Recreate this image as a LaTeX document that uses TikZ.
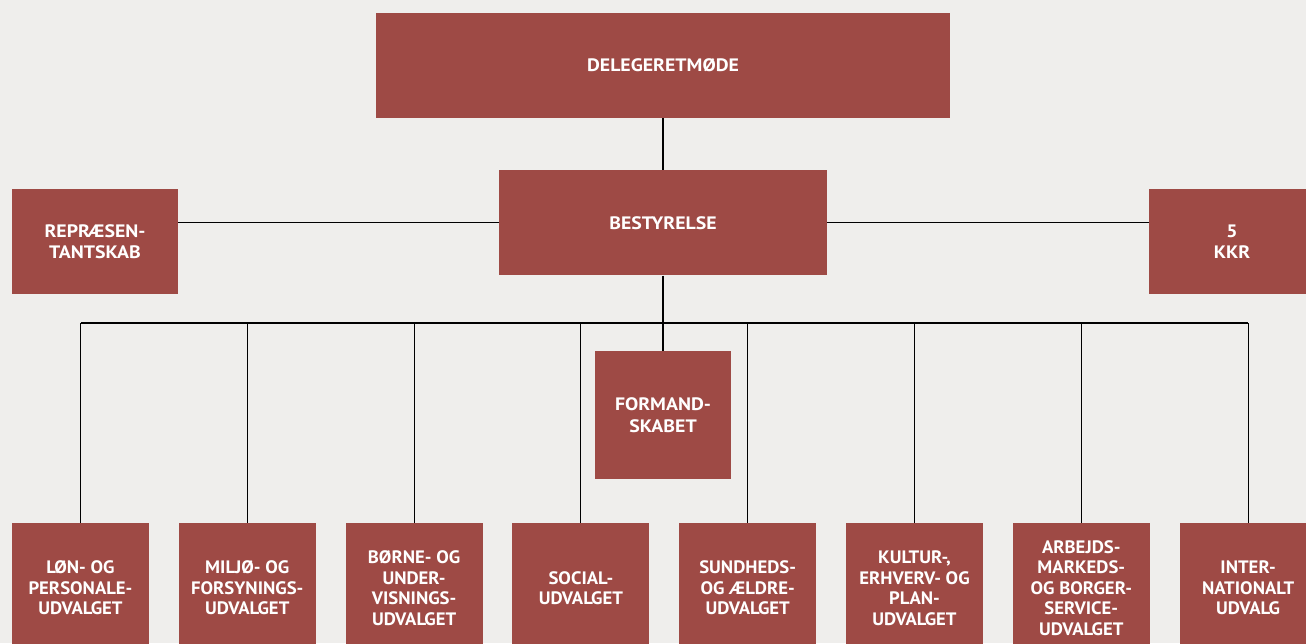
\documentclass[tikz,border=0pt]{standalone}
\usepackage{fontspec}
\setmainfont{PT Sans}[FakeStretch=1.1]
\newfontfamily\narrowfont{PT Sans}[FakeStretch=1.04]
\usepackage{tikz}
\usetikzlibrary{positioning}
\definecolor{boxred}{HTML}{9E4A45}
\definecolor{paper}{HTML}{EFEEEC}

\begin{document}
\begin{tikzpicture}
  [x=1pt,y=-1pt,
 unit/.style={
  rectangle,
  fill=boxred,
  text=white,
  inner sep=0pt,
  align=center,
  font=\fontsize{18}{21.5}\selectfont\bfseries},
 board/.style={unit,minimum width=328pt,minimum height=105pt},
 side/.style={unit,minimum width=166pt,minimum height=105pt},
 committee/.style={
  unit,
  minimum width=137pt,
  minimum height=130pt,
  font=\fontsize{18}{20.5}\narrowfont\bfseries},
 line/.style={draw=black,line width=1.1pt}]
\fill[paper] (0,0) rectangle (1306,643);
\useasboundingbox (0,0) rectangle (1306,643);
% top of the organisation
\node (delegeret) [board,minimum width=574pt] at (663,65.5) {DELEGERETMØDE};
\node (bestyrelse) [board,below=52pt of delegeret] {BESTYRELSE};
\node (repr) [side] at (95,241.5) {REPRÆSEN-\\TANTSKAB};
\node (kkr) [side] at (1232,241.5) {5\\KKR};
\node (formand) [unit,minimum width=136pt,minimum height=128pt] at (663,415) {FORMAND-\\SKABET};
\coordinate (bus) at (663,323);
% committees
\node (lon) [committee] at (80.5,588) {LØN- OG\\PERSONALE-\\UDVALGET};
\node (miljo) [committee,right=29.4pt of lon] {MILJØ- OG\\FORSYNINGS-\\UDVALGET};
\node (borne) [committee,right=29.4pt of miljo] {BØRNE- OG\\UNDER-\\VISNINGS-\\UDVALGET};
\node (social) [committee,right=29.4pt of borne] {SOCIAL-\\UDVALGET};
\node (sundhed) [committee,right=29.4pt of social] {SUNDHEDS-\\OG ÆLDRE-\\UDVALGET};
\node (kultur) [committee,right=29.4pt of sundhed] {KULTUR-,\\ERHVERV- OG\\PLAN-\\UDVALGET};
\node (arbejd) [committee,right=29.4pt of kultur] {ARBEJDS-\\MARKEDS-\\OG BORGER-\\SERVICE-\\UDVALGET};
\node (intl) [committee,right=29.4pt of arbejd] {INTER-\\NATIONALT\\UDVALG};
% lines
\path (delegeret) edge[line] (bestyrelse) ;
\path (bestyrelse) edge[line] (bestyrelse -| repr.east) ;
\path (bestyrelse) edge[line] (bestyrelse -| kkr.west) ;
\path (bestyrelse) edge[line] (formand) ;
\draw[line] (lon.north |- bus) -- (intl.north |- bus) ;
\foreach \c in {lon,miljo,borne,social,sundhed,kultur,arbejd,intl}
  \path (\c) edge[line] (\c.north |- bus) ;
\end{tikzpicture}
\end{document}
